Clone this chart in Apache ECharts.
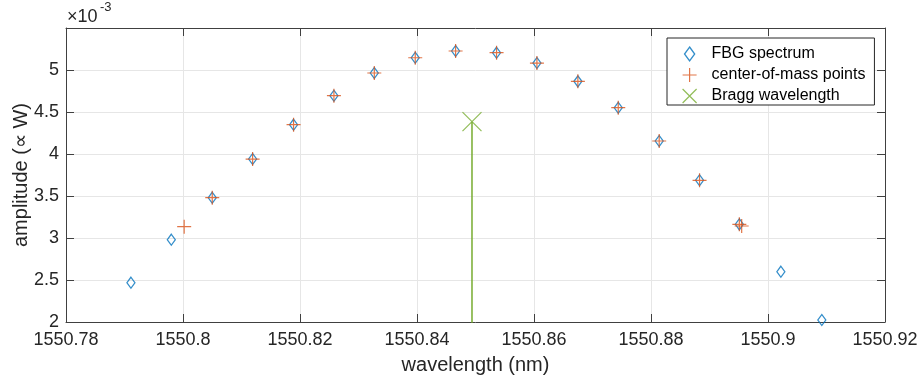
<!DOCTYPE html>
<html>
<head>
<meta charset="utf-8">
<script src="https://cdn.jsdelivr.net/npm/echarts@6/dist/echarts.min.js"></script>
<style>
  html, body { margin: 0; padding: 0; background: #fff; }
  #chart { width: 919px; height: 380px; }
</style>
</head>
<body>
<div id="chart"></div>
<script>
// FBG reflection spectrum samples (wavelength in nm, amplitude in units of 1e-3 W)
const fbgWavelength = [1550.7911, 1550.7980, 1550.8050, 1550.8119, 1550.8189, 1550.8258,
  1550.8327, 1550.8397, 1550.8466, 1550.8536, 1550.8605, 1550.8675, 1550.8744,
  1550.8814, 1550.8883, 1550.8951, 1550.9022, 1550.9092];
const fbgAmplitude = [2.468, 2.980, 3.480, 3.940, 4.349, 4.694, 4.964, 5.146, 5.226,
  5.206, 5.083, 4.865, 4.551, 4.155, 3.687, 3.163, 2.599, 2.024];

// Points used for the center-of-mass estimate (incl. the two threshold crossings)
const comWavelength = [1550.8002, 1550.8050, 1550.8119, 1550.8189, 1550.8258, 1550.8327,
  1550.8397, 1550.8466, 1550.8536, 1550.8605, 1550.8675, 1550.8744, 1550.8814,
  1550.8883, 1550.8951, 1550.8955];
const comAmplitude = [3.135, 3.480, 3.940, 4.349, 4.694, 4.964, 5.146, 5.226, 5.206,
  5.083, 4.865, 4.551, 4.155, 3.687, 3.163, 3.143];

// Estimated Bragg wavelength (stem)
const braggWavelength = 1550.8494;
const braggAmplitude = 4.385;

// Axis ticks
const xTicks = { min: 1550.78, max: 1550.92, step: 0.02 };
const yTicks = { min: 2, max: 5.5, step: 0.5 };

const seriesNames = ['FBG spectrum', 'center-of-mass points', 'Bragg wavelength'];

const BLUE = '#0072BD', ORANGE = '#D95319', GREEN = '#77AC30';
const INK = '#262626', AXIS = '#404040', GRID = '#e6e6e6';
const FONT = '"Liberation Sans", Arial, Helvetica, sans-serif';

const DIAMOND = 'path://M0,-11L8,0L0,11L-8,0Z';
const PLUS = 'path://M0,-1L0,1M-1,0L1,0';
const CROSS = 'path://M-1,-1L1,1M-1,1L1,-1';

const zip = (xs, ys) => xs.map((x, i) => [x, ys[i]]);
const fmtX = v => String(parseFloat(v.toFixed(2)));
const fmtY = v => String(parseFloat(v.toFixed(1)));

const chart = echarts.init(document.getElementById('chart'), null, { renderer: 'canvas' });

const tickInside = { show: true, inside: true, length: 8, lineStyle: { color: AXIS, width: 1 } };

chart.setOption({
  animation: false,
  backgroundColor: '#fff',
  textStyle: { fontFamily: FONT },
  grid: { left: 66, right: 34, top: 28, bottom: 58, containLabel: false, outerBoundsMode: 'none' },
  xAxis: [{
    type: 'value', position: 'bottom',
    min: xTicks.min, max: xTicks.max, interval: xTicks.step,
    name: 'wavelength (nm)', nameLocation: 'middle', nameGap: 33,
    nameTextStyle: { fontSize: 20, color: INK, fontFamily: FONT },
    axisLine: { show: true, lineStyle: { color: AXIS, width: 1 } },
    axisTick: tickInside,
    axisLabel: { fontSize: 18, color: INK, margin: 9, formatter: fmtX, fontFamily: FONT, hideOverlap: false },
    splitLine: { show: true, lineStyle: { color: GRID, width: 1 } }
  }, {
    type: 'value', position: 'top',
    min: xTicks.min, max: xTicks.max, interval: xTicks.step,
    axisLine: { show: true, lineStyle: { color: AXIS, width: 1 } },
    axisTick: tickInside,
    axisLabel: { show: false },
    splitLine: { show: false }
  }],
  yAxis: [{
    type: 'value', position: 'left',
    min: yTicks.min, max: yTicks.max, interval: yTicks.step,
    name: 'amplitude (∝ W)', nameLocation: 'middle', nameGap: 35, nameMoveOverlap: false,
    nameTextStyle: { fontSize: 20, color: INK, fontFamily: FONT },
    axisLine: { show: true, lineStyle: { color: AXIS, width: 1 } },
    axisTick: tickInside,
    axisLabel: { fontSize: 18, color: INK, margin: 7, formatter: fmtY, showMaxLabel: false, fontFamily: FONT },
    splitLine: { show: true, lineStyle: { color: GRID, width: 1 } }
  }, {
    type: 'value', position: 'right',
    min: yTicks.min, max: yTicks.max, interval: yTicks.step,
    axisLine: { show: true, lineStyle: { color: AXIS, width: 1 } },
    axisTick: tickInside,
    axisLabel: { show: false },
    splitLine: { show: false }
  }],
  legend: {
    orient: 'vertical',
    left: 667, top: 38,
    padding: [8, 9, 1, 15],
    itemWidth: 34, itemHeight: 14, itemGap: 5,
    backgroundColor: '#fff',
    borderColor: INK, borderWidth: 1,
    textStyle: { fontSize: 16, color: '#000', lineHeight: 16, fontFamily: FONT },
    data: [
      { name: seriesNames[0], icon: DIAMOND, itemStyle: { color: 'rgba(0,0,0,0)', borderColor: BLUE, borderWidth: 1.3 } },
      { name: seriesNames[1], icon: PLUS, itemStyle: { color: 'rgba(0,0,0,0)', borderColor: ORANGE, borderWidth: 1.2 } },
      { name: seriesNames[2], icon: CROSS, itemStyle: { color: 'rgba(0,0,0,0)', borderColor: GREEN, borderWidth: 1.2 } }
    ]
  },
  graphic: [
    { type: 'text', left: 67, top: 8, silent: true,
      style: { text: '×10', fontSize: 18, fill: INK, fontFamily: FONT } },
    { type: 'text', left: 100, top: 1, silent: true,
      style: { text: '-3', fontSize: 13, fill: INK, fontFamily: FONT } }
  ],
  series: [
    {
      name: seriesNames[0], type: 'scatter',
      data: zip(fbgWavelength, fbgAmplitude),
      symbol: DIAMOND, symbolSize: [8, 11],
      itemStyle: { color: 'rgba(0,0,0,0)', borderColor: BLUE, borderWidth: 1.3 },
      emphasis: { disabled: true }, z: 2
    },
    {
      name: seriesNames[1], type: 'scatter',
      data: zip(comWavelength, comAmplitude),
      symbol: PLUS, symbolSize: 14,
      itemStyle: { color: 'rgba(0,0,0,0)', borderColor: ORANGE, borderWidth: 1.2 },
      emphasis: { disabled: true }, z: 3
    },
    {
      // stem from the baseline up to the Bragg peak estimate
      name: 'bragg-stem', type: 'line',
      data: [[braggWavelength, 0], [braggWavelength, braggAmplitude]],
      showSymbol: false, symbol: 'none', clip: true,
      lineStyle: { color: GREEN, width: 1.5 },
      emphasis: { disabled: true }, z: 4
    },
    {
      name: seriesNames[2], type: 'scatter',
      data: [[braggWavelength, braggAmplitude]],
      symbol: CROSS, symbolSize: 19,
      itemStyle: { color: 'rgba(0,0,0,0)', borderColor: GREEN, borderWidth: 1.2 },
      emphasis: { disabled: true }, z: 4
    }
  ]
});
</script>
</body>
</html>
